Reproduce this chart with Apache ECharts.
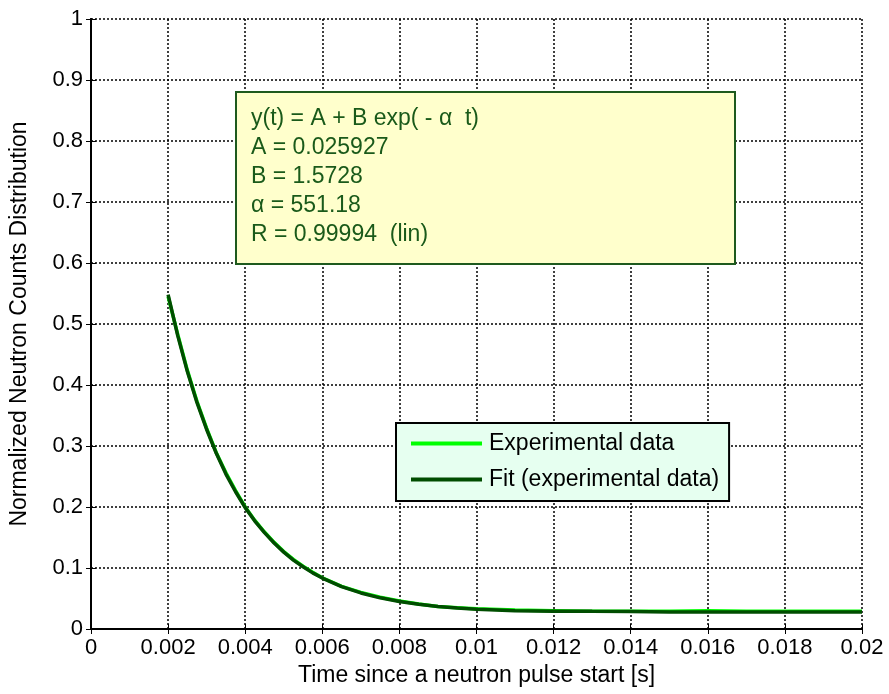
<!DOCTYPE html>
<html>
<head>
<meta charset="utf-8">
<script src="https://cdn.jsdelivr.net/npm/echarts@6/dist/echarts.min.js"></script>
<style>
html,body{margin:0;padding:0;background:#fff;}
#chart{width:889px;height:694px;}
</style>
</head>
<body>
<div id="chart"></div>
<script>
// ---- data ----
var timeValues = [0.002, 0.00225, 0.0025, 0.00275, 0.003, 0.00325, 0.0035, 0.00375, 0.004, 0.00425, 0.0045, 0.00475, 0.005, 0.00525, 0.0055, 0.00575, 0.006, 0.0065, 0.007, 0.0075, 0.008, 0.0085, 0.009, 0.0095, 0.01, 0.011, 0.012, 0.013, 0.014, 0.015, 0.016, 0.017, 0.018, 0.019, 0.02];
var experimentalValues = [0.545, 0.483, 0.424, 0.373, 0.329, 0.289, 0.256, 0.227, 0.200, 0.178, 0.159, 0.142, 0.127, 0.114, 0.103, 0.093, 0.084, 0.070, 0.060, 0.052, 0.046, 0.041, 0.037, 0.035, 0.033, 0.031, 0.030, 0.029, 0.029, 0.029, 0.030, 0.029, 0.029, 0.029, 0.029];
var fitValues = [0.548, 0.481, 0.422, 0.371, 0.327, 0.288, 0.254, 0.225, 0.199, 0.177, 0.158, 0.141, 0.126, 0.113, 0.102, 0.092, 0.0835, 0.0696, 0.0591, 0.0511, 0.0450, 0.0404, 0.0369, 0.0343, 0.0323, 0.0300, 0.0293, 0.0289, 0.0286, 0.0280, 0.0279, 0.0278, 0.0277, 0.0277, 0.0277];
var xTickLabels = ['0', '0.002', '0.004', '0.006', '0.008', '0.01', '0.012', '0.014', '0.016', '0.018', '0.02'];
var yTickLabels = ['0', '0.1', '0.2', '0.3', '0.4', '0.5', '0.6', '0.7', '0.8', '0.9', '1'];
var seriesNames = ['Experimental data', 'Fit (experimental data)'];
var fitTextLines = ['y(t) = A + B exp( - \u03b1  t)', 'A = 0.025927', 'B = 1.5728', '\u03b1 = 551.18', 'R = 0.99994  (lin)'];
var xTitle = 'Time since a neutron pulse start [s]';
var yTitle = 'Normalized Neutron Counts Distribution';

function pairs(xs, ys) { return xs.map(function (x, i) { return [x, ys[i]]; }); }

var FONT = '"Liberation Sans", Arial, sans-serif';
var chart = echarts.init(document.getElementById('chart'), null, {renderer: 'canvas'});

var baseAxisLine = {show: true, lineStyle: {color: '#000', width: 2}};
var tickStyle = {show: true, inside: true, length: 5, lineStyle: {color: '#000', width: 1}};
var gridLine = {show: true, lineStyle: {color: '#000', width: 1.5, type: [2, 2]}};

var option = {
  backgroundColor: '#fff',
  animation: false,
  grid: {left: 88, right: 27, top: 19, bottom: 65, containLabel: false},
  xAxis: [{
    type: 'value', min: 0, max: 0.02, interval: 0.002, position: 'bottom',
    axisLine: baseAxisLine, axisTick: tickStyle, splitLine: gridLine,
    axisLabel: {color: '#000', fontFamily: FONT, fontSize: 22, margin: 8,
      formatter: function (v) { return xTickLabels[Math.round(v / 0.002)]; }},
    name: xTitle, nameLocation: 'middle', nameGap: 35,
    nameTextStyle: {color: '#000', fontFamily: FONT, fontSize: 23}
  }, {
    type: 'value', min: 0, max: 0.02, interval: 0.002, position: 'top',
    axisLine: baseAxisLine, axisTick: tickStyle, splitLine: {show: false},
    axisLabel: {show: false}
  }],
  yAxis: [{
    type: 'value', min: 0, max: 1, interval: 0.1, position: 'left',
    axisLine: baseAxisLine, axisTick: tickStyle, splitLine: gridLine,
    axisLabel: {color: '#000', fontFamily: FONT, fontSize: 22, margin: 8,
      formatter: function (v) { return yTickLabels[Math.round(v * 10)]; }},
    name: yTitle, nameLocation: 'middle', nameGap: 60,
    nameTextStyle: {color: '#000', fontFamily: FONT, fontSize: 23}
  }, {
    type: 'value', min: 0, max: 1, interval: 0.1, position: 'right',
    axisLine: baseAxisLine, axisTick: tickStyle, splitLine: {show: false},
    axisLabel: {show: false}
  }],
  legend: {
    orient: 'vertical', left: 396, top: 423,
    data: seriesNames,
    icon: 'rect', itemWidth: 71, itemHeight: 4, itemGap: 13,
    padding: [9, 10, 10, 15],
    backgroundColor: '#E6FFF0', borderColor: '#000', borderWidth: 2,
    textStyle: {color: '#000', fontFamily: FONT, fontSize: 23, lineHeight: 22, padding: [0, 0, 0, 2]},
    z: 20
  },
  graphic: [{
    type: 'rect', z: 50,
    shape: {x: 236, y: 92, width: 499, height: 172},
    style: {fill: '#FFFFCC', stroke: '#1E5A1E', lineWidth: 2}
  }, {
    type: 'text', z: 51, x: 251, y: 104,
    style: {text: fitTextLines.join('\n'), font: '23px ' + FONT, fill: '#1A5A1A', lineHeight: 29}
  }],
  series: [{
    name: seriesNames[0], type: 'line', xAxisIndex: 0, yAxisIndex: 0,
    data: pairs(timeValues, experimentalValues), showSymbol: false,
    lineStyle: {color: '#00FF00', width: 3.5}, itemStyle: {color: '#00FF00'}, z: 5
  }, {
    name: seriesNames[1], type: 'line', xAxisIndex: 0, yAxisIndex: 0,
    data: pairs(timeValues, fitValues), showSymbol: false,
    lineStyle: {color: '#004D00', width: 3.5}, itemStyle: {color: '#004D00'}, z: 6
  }]
};
chart.setOption(option);
</script>
</body>
</html>
